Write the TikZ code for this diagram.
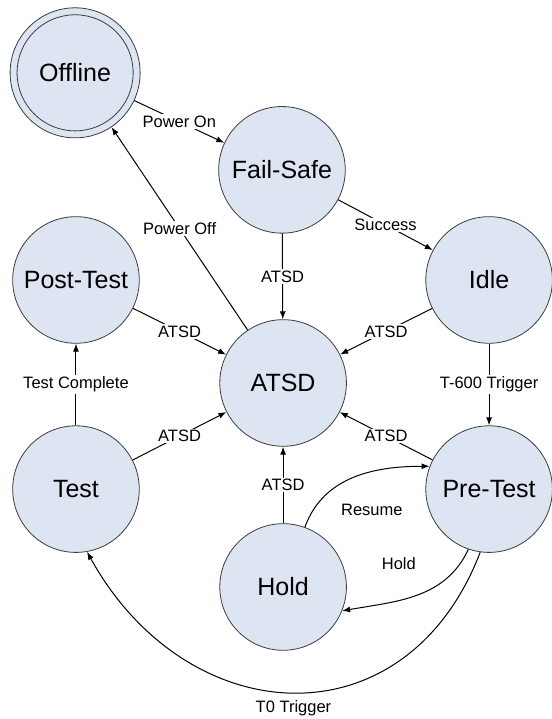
\documentclass[tikz,border=0pt]{standalone}
\usepackage{fontspec}
\setmainfont{Liberation Sans}
\usetikzlibrary{arrows.meta}
\definecolor{statefill}{RGB}{221,229,242}
\definecolor{stateline}{RGB}{60,60,60}

\begin{document}
\begin{tikzpicture}[
  state/.style={circle,draw=stateline,line width=0.8pt,fill=statefill,
    minimum size=4.45cm,inner sep=0pt,font=\fontsize{25}{30}\selectfont},
  trans/.style={-{Latex[length=8pt,width=6pt]},line width=1pt},
  lbl/.style={fill=white,inner sep=1.5pt,font=\fontsize{16.5}{20}\selectfont}
]
\useasboundingbox (0,0) rectangle (19.40,25.27);
% states
\node [state,minimum size=4.57cm] (offline) at (2.64,22.71) {Offline};
\draw [stateline,line width=0.8pt] (offline.center) circle [radius=2.04];
\node [state] (failsafe) at (9.91,19.30) {Fail-Safe};
\node [state] (idle) at (17.19,15.43) {Idle};
\node [state] (posttest) at (2.67,15.43) {Post-Test};
\node [state] (atsd) at (9.95,11.81) {ATSD};
\node [state] (test) at (2.67,8.08) {Test};
\node [state] (pretest) at (17.19,8.08) {Pre-Test};
\node [state] (hold) at (9.95,4.64) {Hold};
% transitions
\draw [trans] (offline) -- node [lbl] {Power On} (failsafe);
\draw [trans] (failsafe) -- node [lbl] {Success} (idle);
\draw [trans] (atsd) -- node [lbl] {Power Off} (offline);
\draw [trans] (failsafe) -- node [lbl] {ATSD} (atsd);
\draw [trans] (posttest) -- node [lbl] {ATSD} (atsd);
\draw [trans] (idle) -- node [lbl] {ATSD} (atsd);
\draw [trans] (test) -- node [lbl] {Test Complete} (posttest);
\draw [trans] (idle) -- node [lbl] {T-600 Trigger} (pretest);
\draw [trans] (test) -- node [lbl] {ATSD} (atsd);
\draw [trans] (pretest) -- node [lbl] {ATSD} (atsd);
\draw [trans] (hold) -- node [lbl] {ATSD} (atsd);
\draw [trans] (hold.70) to [out=70,in=180]
  node [lbl,xshift=18pt,yshift=-32pt] {Resume} (pretest.159);
\draw [trans] (pretest.-109) to [out=-115,in=10]
  node [lbl,xshift=-18pt,yshift=32pt] {Hold} (hold.-22);
\draw [trans] (pretest.-98) to [out=-111,in=-61,looseness=1.35]
  node [lbl,below,yshift=-6pt] {T0 Trigger} (test.-80);
\end{tikzpicture}
\end{document}
